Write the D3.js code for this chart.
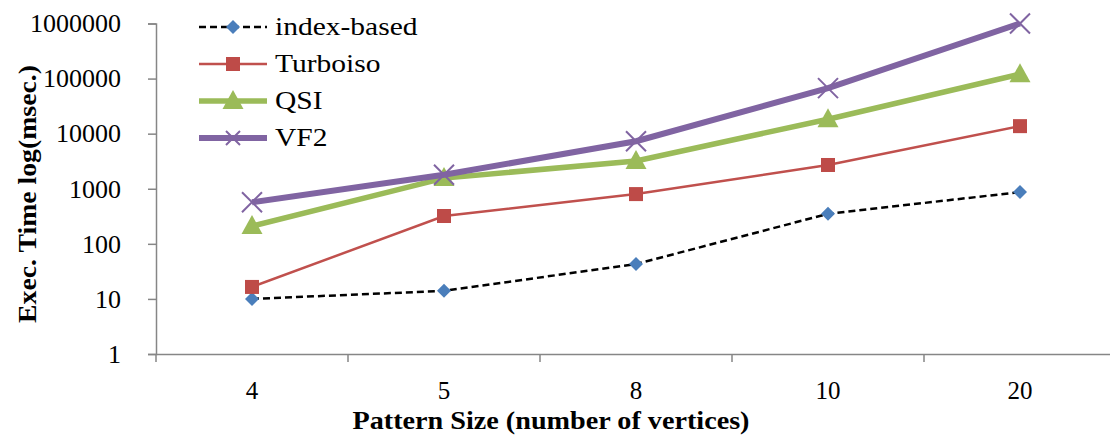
<!DOCTYPE html>
<html><head><meta charset="utf-8">
<script src="https://cdn.jsdelivr.net/npm/d3@7"></script>
<style>body{margin:0;background:#fff}svg{display:block}text{font-family:"Liberation Serif",serif}</style>
</head><body><svg id="c" width="1110" height="437"></svg>
<script>
const categories = ["4","5","8","10","20"];
const seriesNames = ["index-based","Turboiso","QSI","VF2"];
const indexBased = [10, 14, 43, 350, 870];
const turboiso = [16.5, 320, 800, 2700, 13700];
const qsi = [210, 1560, 3200, 18300, 120000];
const vf2 = [570, 1790, 7300, 67000, 1000000];
const yTicks = [1,10,100,1000,10000,100000,1000000];

const series = [
  {name:seriesNames[0], values:indexBased, color:"#000", width:2.5, dash:"7,4", marker:"diamond", mcolor:"#4A7EBB"},
  {name:seriesNames[1], values:turboiso, color:"#C0504D", width:2.5, dash:null, marker:"square", mcolor:"#BE4B48"},
  {name:seriesNames[2], values:qsi, color:"#9BBB59", width:5.5, dash:null, marker:"triangle", mcolor:"#9BBB59"},
  {name:seriesNames[3], values:vf2, color:"#8064A2", width:6, dash:null, marker:"x", mcolor:"#8064A2"}
];

const svg = d3.select("#c");
const x = d3.scaleBand().domain(categories).range([156,1116]);
const y = d3.scaleLog().domain([1,1000000]).range([354,23.5]);
const axisColor = "#868686";

function stretch(sel, f){
  sel.each(function(){ const w=this.getComputedTextLength(); d3.select(this).attr("textLength",w*f).attr("lengthAdjust","spacingAndGlyphs"); });
}

// y axis
const ya = svg.append("g").attr("transform","translate(156,0)")
  .call(d3.axisLeft(y).tickValues(yTicks).tickFormat(d3.format("d")).tickSize(8).tickPadding(27));
ya.select(".domain").attr("stroke",axisColor).attr("stroke-width",1.5);
ya.selectAll(".tick line").attr("stroke",axisColor).attr("stroke-width",1.5);
ya.selectAll(".tick text").attr("font-size",25).attr("fill","#000").attr("font-family","Liberation Serif").attr("dy","0.33em");
stretch(ya.selectAll(".tick text"),1.04);

// x axis
const xa = svg.append("g").attr("transform","translate(0,354)")
  .call(d3.axisBottom(x).tickSize(0).tickPadding(27));
xa.select(".domain").attr("stroke",axisColor).attr("stroke-width",1.5);
xa.selectAll(".tick text").attr("font-size",25).attr("fill","#000").attr("font-family","Liberation Serif");
const bounds = categories.map(c=>x(c)).concat([x(categories[categories.length-1])+x.bandwidth()]);
xa.selectAll(".btick").data(bounds).join("line").attr("class","btick")
  .attr("x1",d=>d).attr("x2",d=>d).attr("y1",0).attr("y2",8)
  .attr("stroke",axisColor).attr("stroke-width",1.5);

// titles
svg.append("text").attr("x",551).attr("y",429).attr("text-anchor","middle")
  .attr("font-size",25).attr("font-weight","bold").attr("textLength",397).attr("lengthAdjust","spacingAndGlyphs")
  .text("Pattern Size (number of vertices)");
svg.append("text").attr("transform","translate(36,194) rotate(-90)").attr("text-anchor","middle")
  .attr("font-size",25).attr("font-weight","bold").attr("textLength",258).attr("lengthAdjust","spacingAndGlyphs")
  .text("Exec. Time log(msec.)");

const cx = d => x(d) + x.bandwidth()/2;
const line = d3.line().x((v,i)=>cx(categories[i])).y(v=>y(v));

function drawMarker(g, type, color, small){
  if(type==="diamond") g.append("path").attr("d","M0,-7L7,0L0,7L-7,0Z").attr("fill",color);
  else if(type==="square") g.append("rect").attr("x",-7).attr("y",-7).attr("width",14).attr("height",14).attr("fill",color);
  else if(type==="triangle") g.append("path").attr("d","M0,-11L10.5,8L-10.5,8Z").attr("fill",color);
  else if(type==="x"){ const r = small?7:10; g.append("path").attr("d",`M${-r},${-r}L${r},${r}M${-r},${r}L${r},${-r}`).attr("stroke",color).attr("stroke-width",2).attr("fill","none"); }
}

series.forEach(s=>{
  svg.append("path").datum(s.values).attr("d",line).attr("fill","none")
    .attr("stroke",s.color).attr("stroke-width",s.width).attr("stroke-dasharray",s.dash);
  s.values.forEach((v,i)=>{
    const g = svg.append("g").attr("transform",`translate(${cx(categories[i])},${y(v)})`);
    drawMarker(g,s.marker,s.mcolor,false);
  });
});

// legend
const ly = [27,64,101,138];
series.forEach((s,i)=>{
  const g = svg.append("g").attr("transform",`translate(0,${ly[i]})`);
  g.append("line").attr("x1",199).attr("x2",267).attr("y1",0).attr("y2",0)
    .attr("stroke",s.color).attr("stroke-width",s.width).attr("stroke-dasharray",s.dash);
  const m = g.append("g").attr("transform","translate(233,0)");
  drawMarker(m,s.marker,s.mcolor,true);
  const t = g.append("text").attr("x",275).attr("y",8).attr("font-size",25).text(s.name);
  stretch(t,1.18);
});
</script></body></html>
